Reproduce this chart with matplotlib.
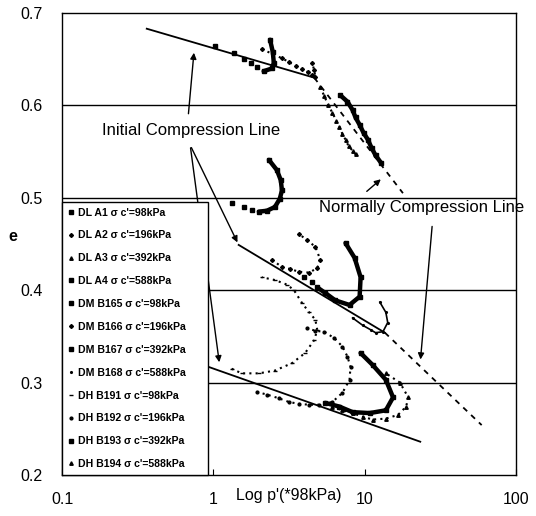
import matplotlib.pyplot as plt
from matplotlib.lines import Line2D

plt.rcParams['font.family'] = ['Liberation Sans', 'DejaVu Sans']

# consolidation lines: p' in units of 98 kPa, void ratio e
icl_dl_p = [0.363, 4.64]
icl_dl_e = [0.683, 0.630]
ncl_dl_p = [4.64, 17.9]
ncl_dl_e = [0.630, 0.505]
icl_dm_p = [1.47, 13.6]
icl_dm_e = [0.449, 0.354]
ncl_dm_p = [13.6, 59.3]
ncl_dm_e = [0.354, 0.254]
icl_dh_p = [0.858, 23.3]
icl_dh_e = [0.319, 0.236]

# test paths
dl_a1_p = [1.02, 1.36, 1.585, 1.77, 1.93, 2.15, 2.44, 2.51, 2.47, 2.37]
dl_a1_e = [0.664, 0.657, 0.650, 0.646, 0.642, 0.637, 0.640, 0.646, 0.658, 0.671]
dl_a2_p = [2.09, 2.84, 3.16, 3.50, 3.86, 4.23, 4.50, 4.72, 4.64, 4.50]
dl_a2_e = [0.661, 0.651, 0.647, 0.643, 0.639, 0.636, 0.633, 0.631, 0.638, 0.646]
dl_a3_p = [5.09, 5.41, 5.75, 6.12, 6.51, 6.81, 7.13, 7.47, 7.82, 8.32, 8.70]
dl_a3_e = [0.620, 0.610, 0.600, 0.592, 0.583, 0.577, 0.569, 0.563, 0.556, 0.551, 0.547]
dl_a4_p = [6.90, 7.70, 8.32, 8.70, 9.26, 9.85, 10.5, 11.1, 11.8, 12.8]
dl_a4_e = [0.611, 0.604, 0.595, 0.587, 0.579, 0.570, 0.563, 0.554, 0.546, 0.538]

dm_b165_p = [1.32, 1.585, 1.79, 2.0, 2.26, 2.55, 2.75, 2.84, 2.79, 2.63, 2.33]
dm_b165_e = [0.494, 0.490, 0.487, 0.485, 0.486, 0.490, 0.499, 0.508, 0.519, 0.530, 0.541]
dm_b166_p = [2.44, 2.84, 3.2, 3.67, 4.30, 4.86, 5.09, 4.72, 4.17, 3.67]
dm_b166_e = [0.433, 0.425, 0.423, 0.420, 0.419, 0.424, 0.433, 0.447, 0.454, 0.461]
dm_b167_p = [3.98, 4.50, 4.86, 5.49, 6.39, 7.94, 9.26, 9.4, 8.58, 7.47]
dm_b167_e = [0.414, 0.409, 0.403, 0.397, 0.389, 0.384, 0.393, 0.414, 0.435, 0.451]
dm_b168_p = [8.32, 9.70, 11.0, 11.8, 13.2, 14.2, 13.8, 12.6]
dm_b168_e = [0.370, 0.362, 0.357, 0.354, 0.355, 0.365, 0.376, 0.387]

dh_b191_p = [1.32, 1.54, 2.0, 2.55, 3.31, 4.04, 4.64, 4.86, 4.72, 4.30, 3.86, 3.41, 3.07, 2.55, 2.09]
dh_b191_e = [0.315, 0.310, 0.310, 0.313, 0.321, 0.332, 0.346, 0.357, 0.368, 0.376, 0.386, 0.400, 0.406, 0.411, 0.414]
dh_b192_p = [1.93, 2.26, 2.71, 3.16, 3.67, 4.30, 5.0, 6.12, 7.13, 7.94, 8.06, 7.70, 7.13, 6.31, 5.41, 4.72, 4.17]
dh_b192_e = [0.290, 0.287, 0.283, 0.279, 0.277, 0.276, 0.276, 0.279, 0.289, 0.303, 0.317, 0.328, 0.339, 0.348, 0.355, 0.356, 0.359]
dh_b193_p = [5.49, 6.81, 8.32, 10.8, 13.8, 15.4, 13.8, 11.3, 9.4]
dh_b193_e = [0.278, 0.274, 0.268, 0.267, 0.270, 0.284, 0.303, 0.319, 0.332]
dh_b194_p = [6.12, 7.13, 8.32, 9.70, 11.3, 13.8, 16.6, 18.8, 19.4, 17.1, 13.8]
dh_b194_e = [0.274, 0.270, 0.267, 0.263, 0.260, 0.261, 0.265, 0.274, 0.284, 0.300, 0.310]

labels = ["DL A1 σ c'=98kPa", "DL A2 σ c'=196kPa", "DL A3 σ c'=392kPa", "DL A4 σ c'=588kPa",
          "DM B165 σ c'=98kPa", "DM B166 σ c'=196kPa", "DM B167 σ c'=392kPa", "DM B168 σ c'=588kPa",
          "DH B191 σ c'=98kPa", "DH B192 σ c'=196kPa", "DH B193 σ c'=392kPa", "DH B194 σ c'=588kPa"]

# (p, e, marker, size, style, index where the dense part of the path begins)
series = [
    (dl_a1_p, dl_a1_e, 's', 2.5, 'thick', 5),
    (dl_a2_p, dl_a2_e, 'D', 2.0, 'dot', 0),
    (dl_a3_p, dl_a3_e, '^', 2.5, 'dot', 0),
    (dl_a4_p, dl_a4_e, 's', 3.0, 'thick', 0),
    (dm_b165_p, dm_b165_e, 's', 3.0, 'thick', 3),
    (dm_b166_p, dm_b166_e, 'D', 2.0, 'dot', 0),
    (dm_b167_p, dm_b167_e, 's', 3.5, 'thick', 2),
    (dm_b168_p, dm_b168_e, '.', 2.5, 'thin', 0),
    (dh_b191_p, dh_b191_e, '_', 3.0, 'dot', 0),
    (dh_b192_p, dh_b192_e, 'o', 2.0, 'dot', 0),
    (dh_b193_p, dh_b193_e, 's', 3.0, 'thick', 0),
    (dh_b194_p, dh_b194_e, '^', 2.5, 'dot', 0),
]

fig = plt.figure(figsize=(5.36, 5.16), dpi=100)
ax = fig.add_axes([0.1157, 0.0795, 0.847, 0.8953])

for y in [0.3, 0.4, 0.5, 0.6]:
    ax.axhline(y, color='black', lw=1.0, zorder=1)

ax.plot(icl_dl_p, icl_dl_e, color='black', lw=1.3)
ax.plot(ncl_dl_p, ncl_dl_e, color='black', lw=1.3, ls=(0, (3, 3)))
ax.plot(icl_dm_p, icl_dm_e, color='black', lw=1.3)
ax.plot(ncl_dm_p, ncl_dm_e, color='black', lw=1.3, ls=(0, (3, 3)))
ax.plot(icl_dh_p, icl_dh_e, color='black', lw=1.3)

handles = []
for (p, e, m, ms, kind, k), lab in zip(series, labels):
    if kind == 'thick':
        ax.plot(p, e, color='black', ls='none', marker=m, ms=ms)
        ax.plot(p[k:], e[k:], color='black', lw=3.2, solid_capstyle='round')
    elif kind == 'thin':
        ax.plot(p, e, color='black', lw=1.2, marker=m, ms=ms)
    else:
        ax.plot(p, e, color='black', lw=1.5, ls=(0, (1, 2)), marker=m, ms=ms)
    handles.append(Line2D([], [], ls='none', marker=m, ms=ms, color='black', label=lab))

arrow = dict(arrowstyle='-|>', color='black', lw=1.0, mutation_scale=9)

ax.text(0.714, 0.573, 'Initial Compression Line', ha='center', va='center', fontsize=12)
ax.annotate('', xy=(0.747, 0.660), xytext=(0.682, 0.588), arrowprops=arrow)
ax.annotate('', xy=(1.47, 0.449), xytext=(0.703, 0.557), arrowprops=arrow)
ax.annotate('', xy=(1.10, 0.319), xytext=(0.703, 0.557), arrowprops=arrow)

ax.text(5.01, 0.489, 'Normally Compression Line', ha='left', va='center', fontsize=12, clip_on=False)
ax.annotate('', xy=(13.2, 0.522), xytext=(10.0, 0.505), arrowprops=arrow)
ax.annotate('', xy=(23.3, 0.322), xytext=(28.0, 0.472), arrowprops=arrow)

leg = ax.legend(handles=handles, loc='lower left', bbox_to_anchor=(0, 0, 0.322, 0.6),
                mode='expand', borderaxespad=0, labelspacing=1.22,
                handlelength=0.6, handletextpad=0.4, borderpad=0.55,
                fancybox=False, framealpha=1, edgecolor='black',
                prop={'weight': 'bold', 'size': 7.6})
leg.get_frame().set_linewidth(1.0)

ax.set_xscale('log')
ax.set_xlim(0.1, 100)
ax.set_ylim(0.2, 0.7)
ax.set_yticks([0.2, 0.3, 0.4, 0.5, 0.6, 0.7])
ax.set_xticks([0.1, 1, 10, 100])
ax.set_xticklabels(['0.1', '1', '10', '100'])
ax.minorticks_off()
ax.tick_params(axis='x', direction='in', length=4, pad=12, labelsize=11.5)
ax.tick_params(axis='y', length=0, pad=14, labelsize=11.5)
for s in ax.spines.values():
    s.set_linewidth(1.0)

ax.text(0.5, -0.045, "Log p'(*98kPa)", transform=ax.transAxes, ha='center', va='center', fontsize=11.5)
ax.set_ylabel('e', rotation=0, fontsize=11.5, fontweight='bold')
ax.yaxis.set_label_coords(-0.108, 0.5)

fig.savefig('out.png', dpi=100)
